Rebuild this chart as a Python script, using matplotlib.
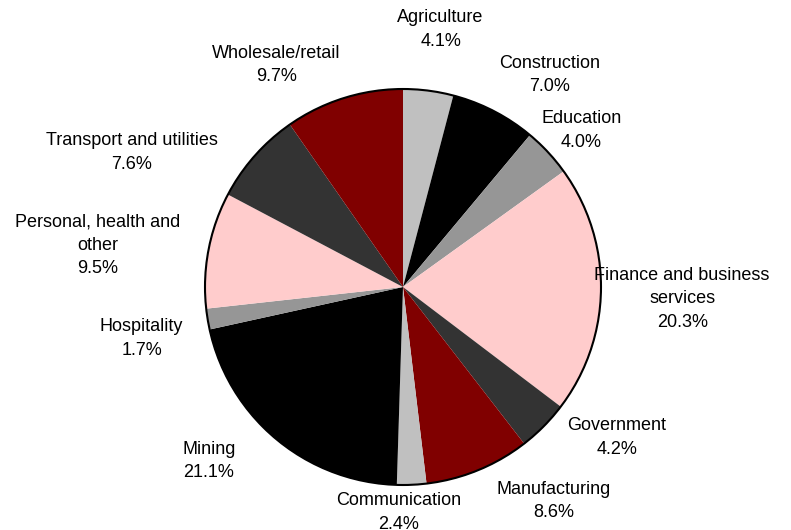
import matplotlib
matplotlib.use('Agg')
import matplotlib.pyplot as plt
from matplotlib.patches import Circle

plt.rcParams['font.family'] = ['Liberation Sans', 'DejaVu Sans']

# sector shares, clockwise from 12 o'clock
sectors = ['Agriculture', 'Construction', 'Education', 'Finance and business\nservices',
           'Government', 'Manufacturing', 'Communication', 'Mining', 'Hospitality',
           'Personal, health and\nother', 'Transport and utilities', 'Wholesale/retail']
shares = [4.1, 7.0, 4.0, 20.3, 4.2, 8.6, 2.4, 21.1, 1.7, 9.5, 7.6, 9.7]
colors = ['#C0C0C0', '#000000', '#969696', '#FFCCCC', '#333333', '#800000',
          '#C0C0C0', '#000000', '#969696', '#FFCCCC', '#333333', '#800000']

# where each label sits, in units of the pie radius
label_pos = [(0.19, 1.30), (0.74, 1.07), (0.90, 0.79), (1.41, -0.06),
             (1.08, -0.76), (0.76, -1.08), (-0.02, -1.14), (-0.98, -0.88),
             (-1.32, -0.26), (-1.54, 0.21), (-1.37, 0.68), (-0.64, 1.12)]

fig = plt.figure(figsize=(7.91, 5.30), dpi=100)
ax = fig.add_axes([0, 0, 1, 1])

ax.pie(shares, colors=colors, startangle=90, counterclock=False, radius=1,
       wedgeprops=dict(linewidth=0))
ax.add_patch(Circle((0, 0), 1, fill=False, edgecolor='black', linewidth=1.5))

for name, val, (x, y) in zip(sectors, shares, label_pos):
    ax.text(x, y, f'{name}\n{val:.1f}%', ha='center', va='center',
            fontsize=13, linespacing=1.5)

ax.set_xlim(-403 / 198, 388 / 198)
ax.set_ylim(-243 / 198, 287 / 198)
ax.set_aspect('equal')
ax.axis('off')

fig.savefig('out.png', dpi=100)
